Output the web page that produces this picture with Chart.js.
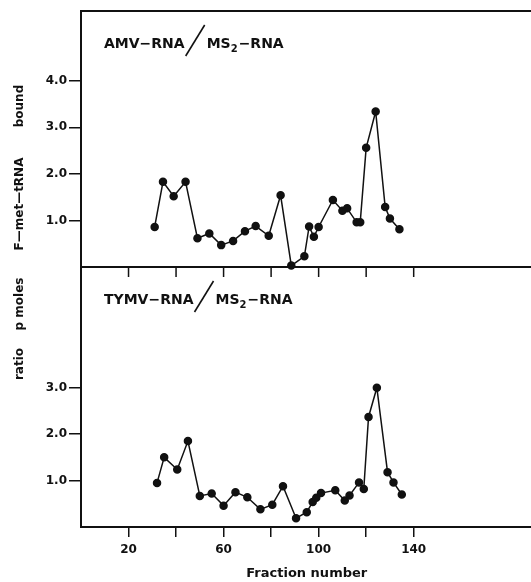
<!doctype html>
<html>
<head>
<title>F-met-tRNA bound ratio</title>
<script src="https://cdn.jsdelivr.net/npm/chart.js@4.4.1/dist/chart.umd.min.js"></script>
<style>
	body { margin: 0; background: #fff; }
	#holder { position: relative; width: 531px; height: 582px; overflow: hidden; }
	#holder canvas { position: absolute; left: 0; top: 0; }
</style>
</head>
<body>
<div id="holder">
	<canvas id="topChart" width="538" height="582"></canvas>
	<canvas id="bottomChart" width="538" height="582"></canvas>
</div>
<script>
// values
var amvFraction = [31, 34.5, 39, 44, 49, 54, 59, 64, 69, 73.5, 79, 84, 88.5, 94, 96, 98, 100, 106, 110, 112, 116, 117.5, 120, 124, 128, 130, 134];
var amvRatio = [0.86, 1.83, 1.52, 1.83, 0.62, 0.72, 0.47, 0.56, 0.77, 0.88, 0.67, 1.54, 0.03, 0.23, 0.87, 0.65, 0.86, 1.44, 1.21, 1.26, 0.96, 0.96, 2.56, 3.34, 1.29, 1.04, 0.81];

var tymvFraction = [32, 35, 40.5, 45, 50, 55, 60, 65, 70, 75.5, 80.5, 85, 90.5, 95, 97.5, 99, 101, 107, 111, 113, 117, 119, 121, 124.5, 129, 131.5, 135];
var tymvRatio = [0.95, 1.50, 1.24, 1.85, 0.67, 0.72, 0.46, 0.75, 0.64, 0.38, 0.48, 0.88, 0.19, 0.32, 0.54, 0.63, 0.73, 0.79, 0.57, 0.68, 0.96, 0.82, 2.37, 3.00, 1.18, 0.96, 0.70];

var xTicks = [20, 40, 60, 80, 100, 120, 140];
var xLabelled = [20, 60, 100, 140];
var amvYTicks = [1, 2, 3, 4];
var tymvYTicks = [1, 2, 3];

// y title words, bottom to top, with their centres along the axis
var yTitleWords = ['ratio', 'p moles', 'F\u2014met\u2014tRNA', 'bound'];
var yTitleCentres = [364, 304, 204, 106];

var ink = '#111';
var FONT = 'DejaVu Sans';

function toPoints(xs, ys) {
	return xs.map(function(x, i) { return {x: x, y: ys[i]}; });
}

// draws the panel border lines, the inward ticks and the panel caption
var panelDecor = {
	id: 'panelDecor',
	afterDraw: function(chart, args, opts) {
		var ctx = chart.ctx;
		var area = chart.chartArea;
		var xs = chart.scales.x;
		ctx.save();
		ctx.strokeStyle = ink;
		ctx.lineWidth = 2;
		ctx.beginPath();
		ctx.moveTo(area.left - 1, area.top);
		ctx.lineTo(area.right, area.top);
		ctx.stroke();
		if (opts.topTicks) {
			ctx.lineWidth = 1.5;
			xTicks.forEach(function(v) {
				var px = xs.getPixelForValue(v);
				ctx.beginPath();
				ctx.moveTo(px, area.top);
				ctx.lineTo(px, area.top + 10);
				ctx.stroke();
			});
		}

		// caption  NAME-RNA / MS2-RNA
		var x = area.left + 23;
		var base = area.top + 37;
		ctx.fillStyle = ink;
		ctx.textBaseline = 'alphabetic';
		ctx.textAlign = 'left';
		ctx.font = 'bold 14px ' + FONT;
		var first = opts.name + '\u2212RNA';
		ctx.fillText(first, x, base);
		x += ctx.measureText(first).width + 1;
		ctx.lineWidth = 1.6;
		ctx.beginPath();
		ctx.moveTo(x, base + 8);
		ctx.lineTo(x + 19, base - 23);
		ctx.stroke();
		x += 21;
		ctx.fillText('MS', x, base);
		x += ctx.measureText('MS').width;
		ctx.font = 'bold 10px ' + FONT;
		ctx.fillText('2', x, base + 4);
		x += ctx.measureText('2').width + 1;
		ctx.font = 'bold 14px ' + FONT;
		ctx.fillText('\u2212RNA', x, base);

		if (opts.yTitle) {
			ctx.translate(20, 0);
			ctx.rotate(-Math.PI / 2);
			ctx.textAlign = 'center';
			ctx.textBaseline = 'middle';
			ctx.font = 'bold 12px ' + FONT;
			yTitleWords.forEach(function(w, i) {
				ctx.fillText(w, -yTitleCentres[i], 0);
			});
		}
		ctx.restore();
	}
};

function yScale(max, ticks) {
	return {
		type: 'linear',
		min: 0,
		max: max,
		afterFit: function(scale) { scale.width = 81; },
		afterBuildTicks: function(scale) {
			scale.ticks = ticks.map(function(v) { return {value: v}; });
		},
		grid: {
			drawOnChartArea: false,
			drawTicks: true,
			tickLength: 12,
			color: ink,
			lineWidth: 1.5
		},
		border: {display: true, color: ink, width: 2},
		ticks: {
			color: ink,
			padding: 2,
			font: {family: FONT, size: 12, weight: 'bold'},
			callback: function(v) { return v.toFixed(1); }
		}
	};
}

function lineSet(xs, ys) {
	return {
		data: toPoints(xs, ys),
		borderColor: ink,
		backgroundColor: ink,
		pointBackgroundColor: ink,
		pointBorderColor: ink,
		borderWidth: 1.5,
		pointRadius: 3.5,
		tension: 0,
		clip: false
	};
}

var common = {
	responsive: false,
	animation: false,
	events: []
};

// the plot runs past the right edge of the page, as in the scan
new Chart(document.getElementById('topChart'), {
	type: 'line',
	data: {datasets: [lineSet(amvFraction, amvRatio)]},
	plugins: [panelDecor],
	options: Object.assign({}, common, {
		layout: {padding: {top: 11, bottom: 315, left: 0, right: 0}},
		plugins: {
			legend: {display: false},
			tooltip: {enabled: false},
			panelDecor: {name: 'AMV', topTicks: false}
		},
		scales: {
			x: {type: 'linear', min: 0, max: 190, display: false},
			y: yScale(5.5, amvYTicks)
		}
	})
});

new Chart(document.getElementById('bottomChart'), {
	type: 'line',
	data: {datasets: [lineSet(tymvFraction, tymvRatio)]},
	plugins: [panelDecor],
	options: Object.assign({}, common, {
		layout: {padding: {top: 267, bottom: 0, left: 0, right: 0}},
		plugins: {
			legend: {display: false},
			tooltip: {enabled: false},
			panelDecor: {name: 'TYMV', topTicks: true, yTitle: true}
		},
		scales: {
			x: {
				type: 'linear',
				min: 0,
				max: 190,
				afterFit: function(scale) { scale.height = 55; },
				afterBuildTicks: function(scale) {
					scale.ticks = xTicks.map(function(v) { return {value: v}; });
				},
				grid: {
					drawOnChartArea: false,
					drawTicks: true,
					tickLength: 10,
					color: ink,
					lineWidth: 1.5
				},
				border: {display: true, color: ink, width: 2},
				ticks: {
					color: ink,
					padding: 6,
					maxRotation: 0,
					autoSkip: false,
					font: {family: FONT, size: 12, weight: 'bold'},
					callback: function(v) { return xLabelled.indexOf(v) >= 0 ? String(v) : ''; }
				},
				title: {
					display: true,
					text: 'Fraction number',
					color: ink,
					padding: {top: 0, bottom: 1},
					font: {family: FONT, size: 13, weight: 'bold'}
				}
			},
			y: yScale(5.6, tymvYTicks)
		}
	})
});
</script>
</body>
</html>
